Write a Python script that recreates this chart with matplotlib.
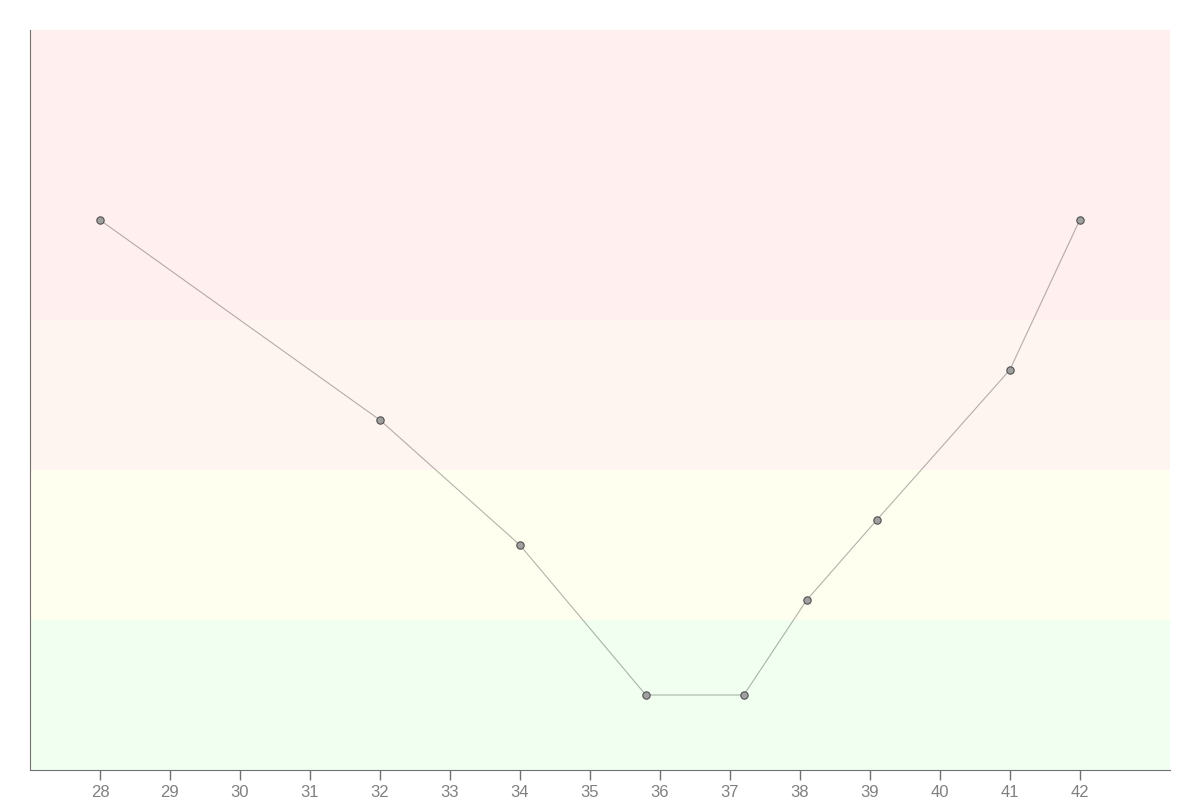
import matplotlib
matplotlib.use('Agg')
import matplotlib.pyplot as plt

plt.rcParams['font.family'] = ['Liberation Sans', 'DejaVu Sans']

x = [28, 32, 34, 35.8, 37.2, 38.1, 39.1, 41, 42]
y = [110, 70, 45, 15, 15, 34, 50, 80, 110]
xticks = list(range(28, 43))

# background bands (lower, upper, colour)
band_edges = [0, 30, 60, 90, 148]
band_colors = ['#f0fff0', '#fffff0', '#fff5f0', '#ffefef']

fig = plt.figure(figsize=(12, 8), dpi=100)
ax = fig.add_axes([0.025, 0.0375, 0.95, 0.925])

for lo, hi, c in zip(band_edges[:-1], band_edges[1:], band_colors):
    ax.axhspan(lo, hi, color=c, lw=0, zorder=0)

ax.plot(x, y, color='#555555', alpha=0.45, lw=0.8, zorder=2)
ax.scatter(x, y, s=28, facecolor='#a0a0a0', edgecolor='#505050', linewidths=0.8, zorder=3)

ax.set_xlim(27, 43.29)
ax.set_ylim(0, 148)
ax.set_xticks(xticks)
ax.set_yticks([])
ax.tick_params(axis='x', colors='#707070', labelcolor='#808080', labelsize=12, length=7, width=1)

for s in ['top', 'right']:
    ax.spines[s].set_visible(False)
ax.spines['left'].set_color('#766f6f')
ax.spines['bottom'].set_color('#707070')

fig.savefig('out.png', dpi=100)
